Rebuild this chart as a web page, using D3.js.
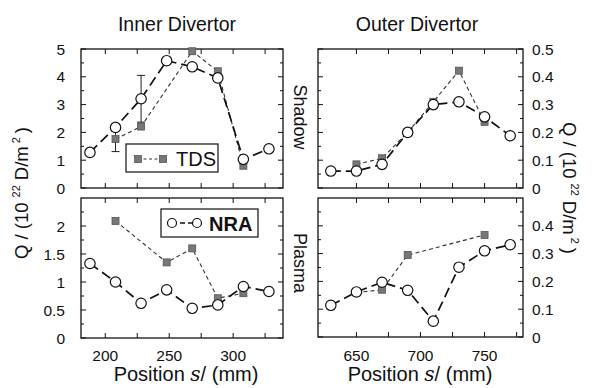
<!DOCTYPE html>
<html><head><meta charset="utf-8">
<script src="https://cdn.jsdelivr.net/npm/d3@7"></script>
<style>body{margin:0;background:#fff}svg{display:block}text{font-family:"Liberation Sans",Arial,sans-serif;fill:#111}</style>
</head><body><svg id="c" width="592" height="388"></svg>
<script>
// ---- data ----
const innerS = [188, 208, 228, 248, 268, 288, 308, 328];
const outerS = [630, 650, 670, 690, 710, 730, 750, 770];

const innerShadowNRA = [1.28, 2.18, 3.21, 4.58, 4.36, 3.96, 1.03, 1.41];
const innerShadowTDS_s = [208, 228, 268, 288, 308];
const innerShadowTDS = [1.76, 2.21, 4.92, 4.2, 0.8];
const innerShadowNRAerr = [{s: 228, lo: 2.37, hi: 4.05}];
const innerShadowTDSerr = [{s: 208, lo: 1.31, hi: 2.21}];

const innerPlasmaNRA = [1.33, 1.0, 0.62, 0.86, 0.53, 0.59, 0.92, 0.83];
const innerPlasmaTDS_s = [208, 248, 268, 288, 308];
const innerPlasmaTDS = [2.09, 1.35, 1.6, 0.71, 0.8];

const outerShadowNRA = [0.061, 0.061, 0.085, 0.2, 0.3, 0.31, 0.256, 0.188];
const outerShadowTDS_s = [650, 670, 690, 710, 730, 750];
const outerShadowTDS = [0.085, 0.107, 0.2, 0.31, 0.422, 0.238];

const outerPlasmaNRA = [0.114, 0.162, 0.197, 0.168, 0.057, 0.251, 0.31, 0.332];
const outerPlasmaTDS_s = [650, 670, 690, 750];
const outerPlasmaTDS = [0.16, 0.17, 0.295, 0.367];

const innerXTicks = [200, 225, 250, 275, 300, 325];
const innerXLabels = [200, 250, 300];
const outerXTicks = [650, 675, 700, 725, 750, 775];
const outerXLabels = [650, 700, 750];
const innerShadowYTicks = [0, 1, 2, 3, 4, 5];
const innerPlasmaYTicks = [0, 0.5, 1, 1.5, 2];
const outerShadowYTicks = [0, 0.1, 0.2, 0.3, 0.4, 0.5];
const outerPlasmaYTicks = [0, 0.1, 0.2, 0.3, 0.4];

const titles = ["Inner Divertor", "Outer Divertor"];
const rowLabels = ["Shadow", "Plasma"];

// ---- layout ----
const svg = d3.select("#c");
const xL = d3.scaleLinear().domain([181, 339]).range([81, 283]);
const xR = d3.scaleLinear().domain([620, 780]).range([318, 523]);
const yTL = d3.scaleLinear().domain([0, 5]).range([188, 49]);
const yBL = d3.scaleLinear().domain([0, 2.5]).range([338, 198]);
const yTR = d3.scaleLinear().domain([0, 0.5]).range([188, 49]);
const yBR = d3.scaleLinear().domain([0, 0.5]).range([337, 198]);

function panel(o) {
  const {x, y, xt, yt, yminor, xlab, ylabSide, nra, nraS, tds, tdsS, errN, errT, ylabFmt} = o;
  const g = svg.append("g");
  const [x0, x1] = x.range(); const [y0, y1] = [y.range()[1], y.range()[0]];
  g.append("rect").attr("x", x0).attr("y", y0).attr("width", x1 - x0).attr("height", y1 - y0)
    .attr("fill", "none").attr("stroke", "#111").attr("stroke-width", 1.3);
  const tk = g.append("g").attr("stroke", "#111").attr("stroke-width", 1);
  xt.forEach(v => {
    tk.append("line").attr("x1", x(v)).attr("x2", x(v)).attr("y1", y1).attr("y2", y1 - 5);
    tk.append("line").attr("x1", x(v)).attr("x2", x(v)).attr("y1", y0).attr("y2", y0 + 5);
  });
  yt.forEach(v => {
    tk.append("line").attr("x1", x0).attr("x2", x0 + 5).attr("y1", y(v)).attr("y2", y(v));
    tk.append("line").attr("x1", x1).attr("x2", x1 - 5).attr("y1", y(v)).attr("y2", y(v));
  });
  yminor.forEach(v => {
    tk.append("line").attr("x1", x0).attr("x2", x0 + 3).attr("y1", y(v)).attr("y2", y(v));
    tk.append("line").attr("x1", x1).attr("x2", x1 - 3).attr("y1", y(v)).attr("y2", y(v));
  });
  yt.forEach(v => {
    const t = g.append("text").attr("y", y(v) + 5.5).attr("font-size", 15.5).text(ylabFmt(v));
    if (ylabSide === "left") t.attr("x", 65).attr("text-anchor", "end");
    else t.attr("x", 532).attr("text-anchor", "start");
  });
  if (xlab) xlab.forEach(v => g.append("text").attr("x", x(v)).attr("y", 361).attr("text-anchor", "middle")
    .attr("font-size", 15.5).text(v));
  const tdsPts = tdsS.map((s, i) => [x(s), y(tds[i])]);
  g.append("path").attr("d", d3.line()(tdsPts)).attr("fill", "none").attr("stroke", "#333")
    .attr("stroke-width", 1.1).attr("stroke-dasharray", "4,3");
  const eb = (e) => {
    g.append("line").attr("x1", x(e.s)).attr("x2", x(e.s)).attr("y1", y(e.lo)).attr("y2", y(e.hi)).attr("stroke", "#222").attr("stroke-width", 1);
    [e.lo, e.hi].forEach(v => g.append("line").attr("x1", x(e.s) - 4).attr("x2", x(e.s) + 4).attr("y1", y(v)).attr("y2", y(v)).attr("stroke", "#222").attr("stroke-width", 1));
  };
  (errT || []).forEach(eb);
  g.selectAll(null).data(tdsPts).enter().append("rect")
    .attr("x", d => d[0] - 3.5).attr("y", d => d[1] - 3.5).attr("width", 7).attr("height", 7)
    .attr("fill", "#777").attr("stroke", "#555").attr("stroke-width", 0.8);
  const nraPts = nraS.map((s, i) => [x(s), y(nra[i])]);
  (errN || []).forEach(eb);
  g.append("path").attr("d", d3.line()(nraPts)).attr("fill", "none").attr("stroke", "#111")
    .attr("stroke-width", 1.7).attr("stroke-dasharray", "10,5");
  g.selectAll(null).data(nraPts).enter().append("circle")
    .attr("cx", d => d[0]).attr("cy", d => d[1]).attr("r", 5.2)
    .attr("fill", "#fff").attr("stroke", "#111").attr("stroke-width", 1.2);
}
const f = d3.format("~g");
const fo = v => v === 0 ? "0" : d3.format(".1f")(v);
panel({x: xL, y: yTL, xt: innerXTicks, yt: innerShadowYTicks, yminor: [0.5,1.5,2.5,3.5,4.5], ylabSide: "left",
  nra: innerShadowNRA, nraS: innerS, tds: innerShadowTDS, tdsS: innerShadowTDS_s,
  errN: innerShadowNRAerr, errT: innerShadowTDSerr, ylabFmt: f});
panel({x: xL, y: yBL, xt: innerXTicks, yt: innerPlasmaYTicks, yminor: [0.25,0.75,1.25,1.75,2.25], ylabSide: "left",
  xlab: innerXLabels, nra: innerPlasmaNRA, nraS: innerS, tds: innerPlasmaTDS, tdsS: innerPlasmaTDS_s, ylabFmt: f});
panel({x: xR, y: yTR, xt: outerXTicks, yt: outerShadowYTicks, yminor: [0.05,0.15,0.25,0.35,0.45], ylabSide: "right",
  nra: outerShadowNRA, nraS: outerS, tds: outerShadowTDS, tdsS: outerShadowTDS_s, ylabFmt: fo});
panel({x: xR, y: yBR, xt: outerXTicks, yt: outerPlasmaYTicks, yminor: [0.05,0.15,0.25,0.35,0.45], ylabSide: "right",
  xlab: outerXLabels, nra: outerPlasmaNRA, nraS: outerS, tds: outerPlasmaTDS, tdsS: outerPlasmaTDS_s, ylabFmt: fo});

svg.append("text").attr("x", 177).attr("y", 31).attr("text-anchor", "middle").attr("font-size", 19.5).text(titles[0]);
svg.append("text").attr("x", 417).attr("y", 31).attr("text-anchor", "middle").attr("font-size", 19.5).text(titles[1]);
svg.append("text").attr("transform", "translate(294,117) rotate(90)").attr("text-anchor", "middle").attr("font-size", 18).text(rowLabels[0]);
svg.append("text").attr("transform", "translate(294,263) rotate(90)").attr("text-anchor", "middle").attr("font-size", 18).text(rowLabels[1]);

function xTitle(cx) {
  const t = svg.append("text").attr("x", cx).attr("y", 381).attr("text-anchor", "middle").attr("font-size", 20);
  t.append("tspan").text("Position  ");
  t.append("tspan").attr("font-style", "italic").attr("font-family", "DejaVu Serif").text("s");
  t.append("tspan").text("/ (mm)");
}
xTitle(186); xTitle(420);

function yTitle(tr) {
  const t = svg.append("text").attr("transform", tr).attr("text-anchor", "middle").attr("font-size", 18.5);
  t.append("tspan").text("Q / (10");
  t.append("tspan").attr("dy", -8).attr("dx", 5).attr("font-size", 11).text("22");
  t.append("tspan").attr("dy", 8).attr("dx", 5).text("D/m");
  t.append("tspan").attr("dy", -8).attr("dx", 3).attr("font-size", 11).text("2");
  t.append("tspan").attr("dy", 8).attr("dx", 4).text(")");
}
yTitle("translate(28,193) rotate(-90)");
yTitle("translate(563,188) rotate(90)");

const lg1 = svg.append("g");
lg1.append("rect").attr("x", 126).attr("y", 144).attr("width", 92).attr("height", 28).attr("fill", "#fff").attr("stroke", "#111").attr("stroke-width", 1.2);
lg1.append("line").attr("x1", 138).attr("x2", 163).attr("y1", 159).attr("y2", 159).attr("stroke", "#333").attr("stroke-width", 1.1).attr("stroke-dasharray", "3,2.5");
[138, 163].forEach(cx => lg1.append("rect").attr("x", cx - 3.5).attr("y", 155.5).attr("width", 7).attr("height", 7).attr("fill", "#777").attr("stroke", "#555").attr("stroke-width", 0.8));
lg1.append("text").attr("x", 176).attr("y", 166).attr("font-size", 20).text("TDS");

const lg2 = svg.append("g");
lg2.append("rect").attr("x", 161).attr("y", 209).attr("width", 97).attr("height", 28).attr("fill", "#fff").attr("stroke", "#111").attr("stroke-width", 1.2);
lg2.append("line").attr("x1", 172).attr("x2", 197).attr("y1", 223).attr("y2", 223).attr("stroke", "#111").attr("stroke-width", 1.5).attr("stroke-dasharray", "5,3");
[172, 197].forEach(cx => lg2.append("circle").attr("cx", cx).attr("cy", 223).attr("r", 4.5).attr("fill", "#fff").attr("stroke", "#111").attr("stroke-width", 1.2));
lg2.append("text").attr("x", 209).attr("y", 230.5).attr("font-size", 20).attr("font-weight", "bold").text("NRA");
</script></body></html>
